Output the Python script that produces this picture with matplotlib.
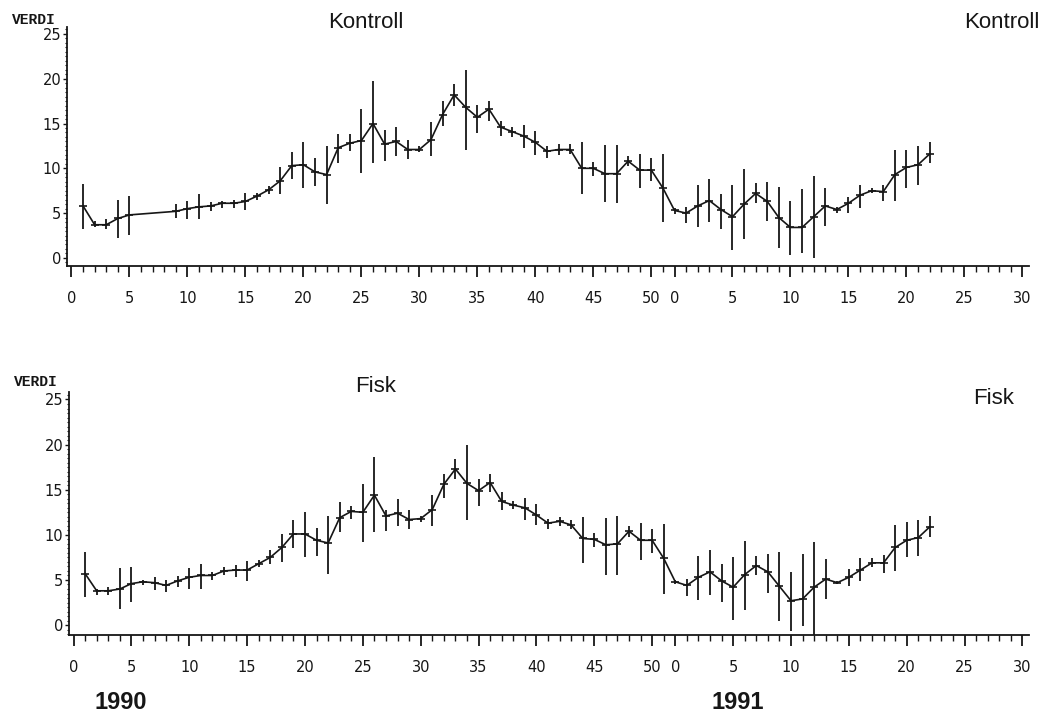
import numpy as np
import matplotlib
matplotlib.use("Agg")
from matplotlib import pyplot as plt
from matplotlib.ticker import FixedLocator, FixedFormatter, MultipleLocator

# weekly means with upper / lower limits
# 1990 weeks are plotted as-is, 1991 weeks are shifted by OFFSET_1991
OFFSET_1991 = 52

kontroll_1990_weeks = [1, 2, 3, 4, 5] + list(range(9, 52))
kontroll_1990_mean = [5.8, 3.7, 3.7, 4.4, 4.8, 5.2, 5.5, 5.7, 5.8, 6.1, 6.1, 6.3, 6.9, 7.6, 8.6, 10.3,
                      10.4, 9.6, 9.3, 12.3, 12.8, 13.1, 15.0, 12.7, 13.0, 12.1, 12.1, 13.2, 16.0, 18.2,
                      16.8, 15.7, 16.6, 14.6, 14.1, 13.6, 12.9, 11.9, 12.1, 12.1, 10.0, 10.0, 9.4, 9.4,
                      10.8, 9.8, 9.8, 7.8]
kontroll_1990_hi = [8.2, 4.1, 4.3, 6.5, 6.9, 6.0, 6.3, 7.1, 6.2, 6.3, 6.5, 7.3, 7.3, 8.0, 10.1, 11.8,
                    12.9, 11.1, 12.5, 13.8, 13.8, 16.6, 19.7, 14.3, 14.6, 13.2, 12.5, 15.2, 17.5, 19.4,
                    21.0, 17.1, 17.5, 15.3, 14.6, 14.8, 14.2, 12.5, 12.7, 12.7, 12.9, 10.7, 12.6, 12.6,
                    11.4, 11.6, 11.1, 11.6]
kontroll_1990_lo = [3.2, 3.4, 3.2, 2.2, 2.6, 4.5, 4.3, 4.3, 5.2, 5.6, 5.6, 5.3, 6.5, 7.1, 7.1, 8.8,
                    7.8, 8.0, 6.0, 10.6, 11.9, 9.5, 10.6, 10.8, 11.4, 11.0, 11.8, 11.4, 14.7, 17.0,
                    12.1, 13.9, 15.3, 13.6, 13.5, 12.3, 11.5, 11.2, 11.5, 11.6, 7.1, 9.1, 6.2, 6.1,
                    10.3, 7.8, 8.6, 4.0]

kontroll_1991_weeks = list(range(0, 23))
kontroll_1991_mean = [5.3, 5.0, 5.8, 6.4, 5.4, 4.6, 6.0, 7.2, 6.3, 4.5, 3.4, 3.4, 4.6, 5.8, 5.4, 6.1,
                      7.0, 7.5, 7.4, 9.3, 10.1, 10.4, 11.6]
kontroll_1991_hi = [5.6, 5.7, 8.1, 8.8, 7.1, 8.1, 9.9, 8.4, 8.5, 7.9, 6.4, 7.7, 9.1, 7.8, 5.7, 6.8,
                    8.1, 7.8, 8.1, 12.0, 12.1, 12.5, 12.9]
kontroll_1991_lo = [4.9, 3.9, 3.4, 4.0, 3.2, 0.9, 2.1, 6.1, 4.1, 1.1, 0.3, 0.6, 0.0, 3.6, 5.0, 5.0,
                    5.6, 7.2, 6.3, 6.3, 7.8, 8.1, 10.6]

fisk_1990_weeks = list(range(1, 52))
fisk_1990_mean = [5.7, 3.8, 3.8, 4.0, 4.6, 4.8, 4.7, 4.4, 4.9, 5.3,
                  5.5, 5.5, 6.0, 6.1, 6.1, 6.8, 7.5, 8.6, 10.1, 10.1,
                  9.4, 9.1, 11.9, 12.6, 12.5, 14.4, 12.1, 12.4, 11.7, 11.8,
                  12.8, 15.6, 17.3, 15.7, 14.9, 15.8, 13.7, 13.3, 13.0, 12.2,
                  11.3, 11.5, 11.1, 9.6, 9.5, 8.9, 9.0, 10.4, 9.4, 9.4, 7.4]
fisk_1990_hi = [8.1, 4.0, 4.2, 6.3, 6.4, 5.0, 5.3, 5.0, 5.4, 6.3,
                6.8, 5.9, 6.4, 6.7, 7.1, 7.2, 8.3, 10.1, 11.6, 12.5,
                10.8, 12.1, 13.6, 13.2, 15.6, 18.6, 12.7, 14.0, 12.8, 12.1,
                14.4, 16.7, 18.4, 20.0, 16.2, 16.7, 14.7, 13.8, 14.1, 13.4,
                11.8, 12.0, 11.6, 12.0, 10.2, 11.9, 12.1, 11.0, 11.3, 10.7, 11.2]
fisk_1990_lo = [3.1, 3.3, 3.3, 1.8, 2.6, 4.4, 3.9, 3.7, 4.2, 4.0,
                4.0, 5.0, 5.5, 5.3, 4.9, 6.4, 6.8, 7.0, 8.5, 7.6,
                7.7, 5.7, 10.3, 11.8, 9.2, 10.3, 10.4, 11.0, 10.6, 11.4,
                11.0, 14.1, 16.2, 11.7, 13.2, 14.7, 12.8, 12.9, 11.7, 11.1,
                10.7, 11.0, 10.7, 6.9, 8.6, 5.6, 5.5, 9.8, 7.2, 8.0, 3.4]

fisk_1991_weeks = list(range(0, 23))
fisk_1991_mean = [4.8, 4.4, 5.3, 5.9, 4.9, 4.2, 5.6, 6.6, 5.9, 4.3, 2.7, 2.9, 4.2, 5.1, 4.7, 5.3,
                  6.1, 6.9, 6.9, 8.6, 9.4, 9.7, 10.9]
fisk_1991_hi = [5.0, 5.1, 7.7, 8.3, 6.8, 7.6, 9.3, 7.7, 7.9, 8.1, 5.9, 7.9, 9.2, 7.3, 4.9, 6.2,
                7.4, 7.4, 7.8, 11.1, 11.4, 11.7, 12.1]
fisk_1991_lo = [4.5, 3.2, 2.8, 3.3, 2.6, 0.6, 1.7, 5.5, 3.6, 0.4, -0.6, -0.1, -1.3, 2.9, 4.5, 4.3,
                4.9, 6.4, 5.8, 6.0, 7.5, 7.7, 9.8]

tick_1990 = [0, 5, 10, 15, 20, 25, 30, 35, 40, 45, 50]
tick_1991 = [0, 5, 10, 15, 20, 25, 30]

INK = '#161616'


def draw_panel(ax, w90, m90, h90, l90, w91, m91, h91, l91, ylow):
    x = np.concatenate([np.array(w90), np.array(w91) + OFFSET_1991])
    mean = np.concatenate([m90, m91])
    hi = np.concatenate([h90, h91])
    lo = np.concatenate([l90, l91])
    ax.plot(x, mean, color=INK, lw=1.2, zorder=3)
    ax.vlines(x, lo, hi, color=INK, lw=1.3, zorder=2)
    ax.plot(x, mean, ls='none', marker='_', ms=6, mew=1.2, color=INK, zorder=4)

    ax.set_xlim(-0.4, 82.6)
    ax.set_ylim(ylow, 25.8)
    for s in ['top', 'right']:
        ax.spines[s].set_visible(False)
    for s in ['left', 'bottom']:
        ax.spines[s].set_linewidth(1.3)
        ax.spines[s].set_color(INK)

    major = tick_1990 + [t + OFFSET_1991 for t in tick_1991]
    labels = [str(t) for t in tick_1990] + [str(t) for t in tick_1991]
    ax.xaxis.set_major_locator(FixedLocator(major))
    ax.xaxis.set_major_formatter(FixedFormatter(labels))
    minor = list(range(0, 52)) + list(range(OFFSET_1991, 83))
    ax.xaxis.set_minor_locator(FixedLocator(minor))
    ax.set_yticks([0, 5, 10, 15, 20, 25])
    ax.yaxis.set_minor_locator(MultipleLocator(0.5))

    ax.tick_params(axis='x', which='major', direction='out', length=8, width=1.3,
                   pad=10, labelsize=10.5, colors=INK)
    ax.tick_params(axis='x', which='minor', direction='out', length=4, width=1.0, colors=INK)
    ax.tick_params(axis='y', which='major', direction='out', length=3, width=1.0,
                   pad=1, labelsize=10.5, colors=INK)
    ax.tick_params(axis='y', which='minor', direction='out', length=1.5, width=0.8, colors=INK)


fig = plt.figure(figsize=(10.44, 7.14), dpi=100)
ax1 = fig.add_axes([0.064, 0.6275, 0.922, 0.335])
ax2 = fig.add_axes([0.066, 0.1106, 0.920, 0.340])

draw_panel(ax1, kontroll_1990_weeks, kontroll_1990_mean, kontroll_1990_hi, kontroll_1990_lo,
           kontroll_1991_weeks, kontroll_1991_mean, kontroll_1991_hi, kontroll_1991_lo, -0.9)
draw_panel(ax2, fisk_1990_weeks, fisk_1990_mean, fisk_1990_hi, fisk_1990_lo,
           fisk_1991_weeks, fisk_1991_mean, fisk_1991_hi, fisk_1991_lo, -1.1)

# labels
mono = dict(family='Liberation Mono', fontweight='bold', fontsize=10.5, color=INK)
fig.text(0.032, 0.972, 'VERDI', ha='center', va='center', **mono)
fig.text(0.034, 0.465, 'VERDI', ha='center', va='center', **mono)

sans = dict(family='Liberation Sans', fontsize=16, color=INK)
fig.text(0.350, 0.969, 'Kontroll', ha='center', va='center', **sans)
fig.text(0.960, 0.968, 'Kontroll', ha='center', va='center', **sans)
fig.text(0.360, 0.458, 'Fisk', ha='center', va='center', **sans)
fig.text(0.952, 0.442, 'Fisk', ha='center', va='center', **sans)

yr = dict(family='Liberation Sans', fontweight='bold', fontsize=17, color=INK)
fig.text(0.116, 0.016, '1990', ha='center', va='center', **yr)
fig.text(0.707, 0.016, '1991', ha='center', va='center', **yr)

fig.savefig('out.png', dpi=100, facecolor='white')
